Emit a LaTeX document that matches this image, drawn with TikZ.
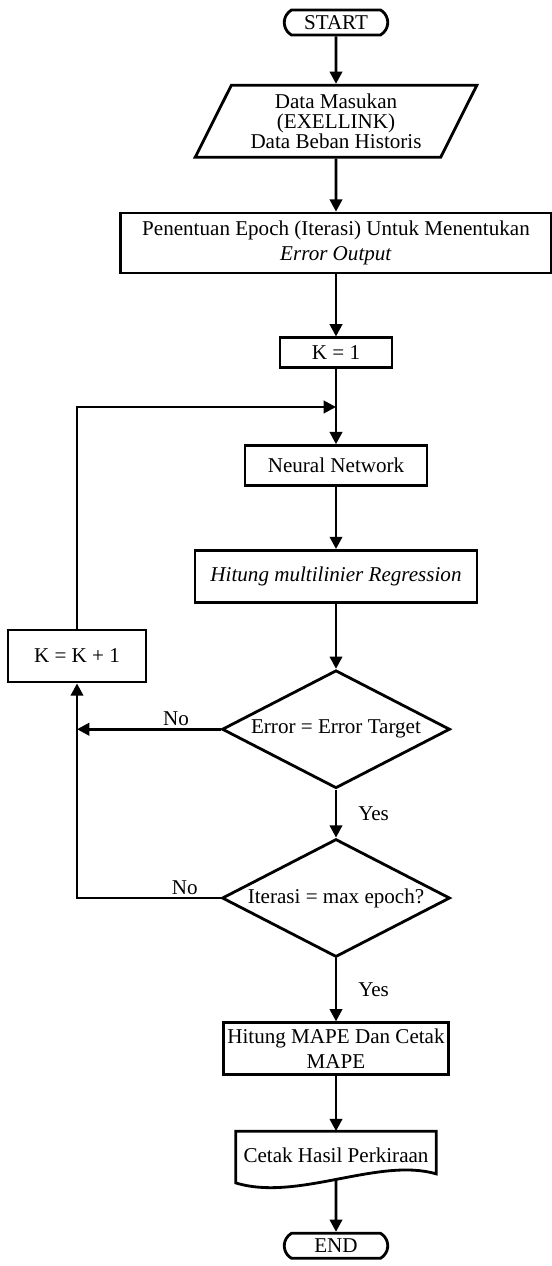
\documentclass[tikz,border=0pt]{standalone}
\usepackage{fontspec}
\setmainfont{Liberation Serif}
\usetikzlibrary{shapes.geometric, shapes.misc, positioning, arrows.meta}
\tikzset{
	>={Triangle[length=7pt, width=7pt]},
	node distance=1.3cm,
	every node/.style={font=\fontsize{12}{14.5}\selectfont},
	process/.style={draw, line width=1.6pt, align=center, inner sep=2pt},
	startstop/.style={draw, line width=1.6pt, rounded rectangle, rounded rectangle arc length=120, minimum width=2.14cm, minimum height=0.5cm, inner sep=1pt},
	io/.style={draw, line width=1.6pt, trapezium, trapezium left angle=63, trapezium right angle=117, trapezium stretches=true, minimum width=5.64cm, minimum height=1.44cm, align=center, inner sep=1pt, font=\fontsize{12}{11.6}\selectfont},
	decision/.style={draw, line width=1.6pt, diamond, aspect=1.93, minimum width=4.56cm, minimum height=2.36cm, inner sep=0pt},
	flow/.style={->, line width=1.6pt},
	baseline}

\begin{document}
\begin{tikzpicture}[x=0.02cm, y=-0.02cm]
		\useasboundingbox (0,0) rectangle (551,1266);
		
		\node[startstop] (start) at (336,22.5) {START};
		
		\node[io, below=0.95cm of start] (input) {Data Masukan\\(EXELLINK)\\Data Beban Historis};
		
		\node[process, minimum width=8.62cm, minimum height=1.2cm, below=1.06cm of input] (epoch) {Penentuan Epoch (Iterasi) Untuk Menentukan\\\textit{Error Output}};
		
		\node[process, minimum width=2.24cm, minimum height=0.6cm, below=1.24cm of epoch] (k1) {K = 1};
		
		\node[process, minimum width=3.64cm, minimum height=0.8cm, below=1.5cm of k1] (nn) {Neural Network};
		
		\node[process, minimum width=5.64cm, minimum height=1.04cm, below=1.24cm of nn] (hitung) {\textit{Hitung multilinier Regression}};
		
		\node[decision, below=1.3cm of hitung] (cek1) {Error = Error Target};
		\node[decision, below=0.96cm of cek1] (cek2) {Iterasi = max epoch?};
		
		\node[process, minimum width=4.4cm, minimum height=1.04cm, below=1.26cm of cek2] (mape) {Hitung MAPE Dan Cetak\\MAPE};
		
		% dokumen output
		\node[minimum width=4cm, minimum height=0.96cm, below=1.1cm of mape] (cetak) {Cetak Hasil Perkiraan};
		\draw[line width=1.6pt] (cetak.north west) -- (cetak.north east) -- ([yshift=0.12cm]cetak.south east)
			.. controls +(-1.16cm,0.34cm) and +(1.24cm,-0.38cm) .. ([yshift=-0.06cm]cetak.south west) -- cycle;
		
		\node[startstop, below=1.04cm of cetak] (end) {END};
		
		\node[process, minimum width=2.76cm, minimum height=1.04cm] (kinc) at (77,656) {K = K + 1};
		\coordinate (back) at (77,407);
		
		\draw[flow] (start) -- (input);
		\draw[flow] (input) -- (epoch);
		\draw[flow] (epoch) -- (k1);
		\draw[flow] (k1) -- (nn);
		\draw[flow] (nn) -- (hitung);
		\draw[flow] (hitung) -- (cek1);
		\draw[flow] (cek1) -- node[right=0.3cm] {Yes} (cek2);
		\draw[flow] (cek2) -- node[right=0.3cm] {Yes} (mape);
		\draw[flow] (mape) -- (cetak);
		\draw[flow] (cetak) -- (end);
		
		\draw[flow] (cek1.west) -- node[above, inner sep=1pt, pos=0.31] {No} (cek1.west -| kinc);
		\draw[flow] (cek2.west) -- node[above, inner sep=1pt, pos=0.25] {No} (cek2.west -| kinc) -- (kinc.south);
		\draw[flow] (kinc.north) -- (back) -- (back -| k1);
		
	\end{tikzpicture}
\end{document}
